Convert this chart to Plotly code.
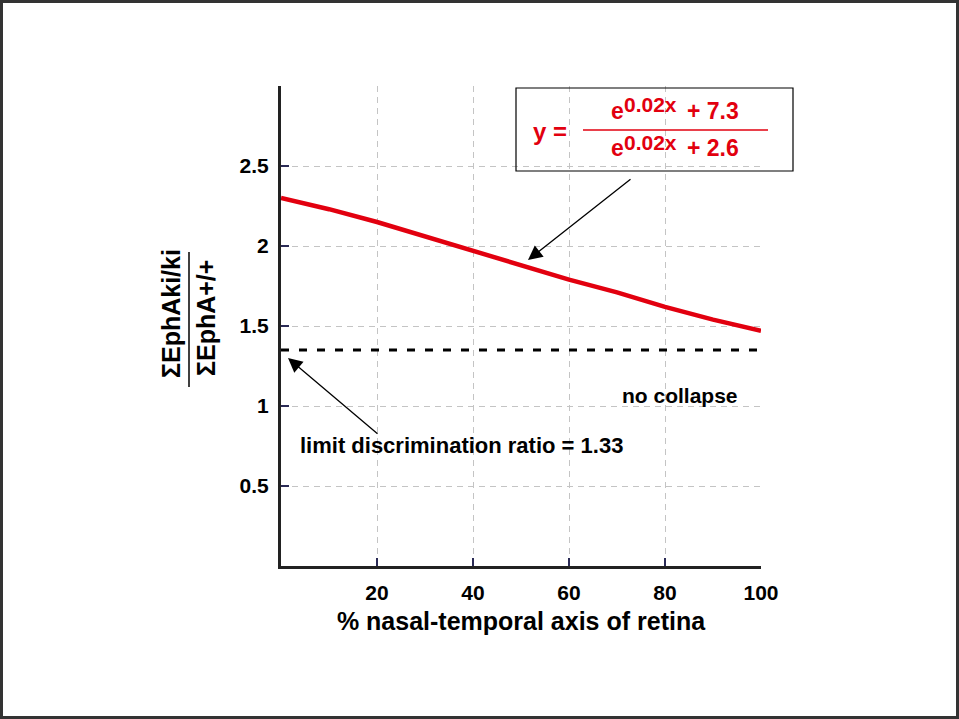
import plotly.graph_objects as go

# Data
x_pos = [0, 10, 20, 30, 40, 50, 60, 70, 80, 90, 100]
ratio = [2.30, 2.23, 2.15, 2.06, 1.97, 1.88, 1.79, 1.71, 1.62, 1.54, 1.47]
limit_x = [0, 100]
limit_y = [1.35, 1.35]

x_ticks = [20, 40, 60, 80, 100]
x_ticktext = ["20", "40", "60", "80", "100"]
y_ticks = [0.5, 1, 1.5, 2, 2.5, 3]
y_ticktext = ["0.5", "1", "1.5", "2", "2.5", ""]

FONT = "Liberation Sans, Arial, Helvetica, sans-serif"
RED = "#e2000f"

# plot area in pixels
L, R, T, B = 281, 761, 86, 566
W, H = R - L, B - T


def px(xp):
    return (xp - L) / W


def py(yp):
    return (B - yp) / H


fig = go.Figure()
fig.add_trace(go.Scatter(x=limit_x, y=limit_y, mode="lines",
                         line=dict(color="black", width=3, dash="8px,10px"),
                         hoverinfo="skip", showlegend=False))
fig.add_trace(go.Scatter(x=x_pos, y=ratio, mode="lines",
                         line=dict(color=RED, width=4.5),
                         showlegend=False))

axis_common = dict(
    showline=True, linecolor="#222222", linewidth=3,
    ticks="inside", ticklen=8, tickwidth=2, tickcolor="#2a2a55",
    showgrid=True, gridcolor="#c4c4c4", gridwidth=1, griddash="6px,5px",
    zeroline=False,
    tickfont=dict(family=FONT, size=21, color="black", weight="bold"),
)

fig.update_xaxes(range=[0, 100], tickmode="array", tickvals=x_ticks,
                 ticktext=x_ticktext, ticklabelstandoff=6,
                 title=dict(text="% nasal-temporal axis of retina",
                            font=dict(family=FONT, size=25, color="black", weight="bold"),
                            standoff=10),
                 **axis_common)
fig.update_yaxes(range=[0, 3], tickmode="array", tickvals=y_ticks,
                 ticktext=y_ticktext, ticklabelstandoff=5,
                 **axis_common)

shapes = [
    # page border
    dict(type="rect", xref="paper", yref="paper",
         x0=px(1.5), x1=px(957.5), y0=py(717.5), y1=py(1.5),
         line=dict(color="#333333", width=3), layer="above"),
    # equation box
    dict(type="rect", xref="paper", yref="paper",
         x0=px(516), x1=px(793), y0=py(171), y1=py(88),
         line=dict(color="black", width=1.2)),
    # equation fraction bar
    dict(type="line", xref="paper", yref="paper",
         x0=px(583), x1=px(768), y0=py(130), y1=py(130),
         line=dict(color=RED, width=1.5)),
    # y-label fraction bar
    dict(type="line", xref="paper", yref="paper",
         x0=px(189), x1=px(189), y0=py(252), y1=py(387),
         line=dict(color="black", width=1.5)),
]


def txt(text, x, y, size, color="black", xanchor="center", angle=0):
    return dict(text=text, xref="paper", yref="paper", x=px(x), y=py(y),
                showarrow=False, textangle=angle,
                font=dict(family=FONT, size=size, color=color),
                xanchor=xanchor, yanchor="middle")


annots = [
    txt("<b>ΣEphAki/ki</b>", 171, 314, 25, angle=-90),
    txt("<b>ΣEphA+/+</b>", 206, 318, 25, angle=-90),
    txt("<b>y =</b>", 550, 131, 24, color=RED),
    # numerator
    txt("<b>e</b>", 626, 111, 23, color=RED, xanchor="right"),
    txt("<b>0.02x</b>", 622, 105, 21, color=RED, xanchor="left"),
    txt("<b>+ 7.3</b>", 685, 111, 23, color=RED, xanchor="left"),
    # denominator
    txt("<b>e</b>", 626, 148, 23, color=RED, xanchor="right"),
    txt("<b>0.02x</b>", 622, 142, 21, color=RED, xanchor="left"),
    txt("<b>+ 2.6</b>", 685, 148, 23, color=RED, xanchor="left"),
    txt("<b>no collapse</b>", 680, 396, 21),
    txt("<b>limit discrimination ratio = 1.33</b>", 461, 445, 22),
    # arrows
    dict(text="", x=(528 - L) / W * 100, y=(B - 260) / H * 3, xref="x", yref="y",
         showarrow=True, ax=104, ay=-82, arrowhead=2, arrowsize=2.2,
         arrowwidth=1.3, arrowcolor="black", standoff=0),
    dict(text="", x=(288 - L) / W * 100, y=(B - 358) / H * 3, xref="x", yref="y",
         showarrow=True, ax=91, ay=77, arrowhead=2, arrowsize=2.2,
         arrowwidth=1.3, arrowcolor="black", standoff=0),
]

fig.update_layout(
    width=959, height=719,
    margin=dict(l=L, r=959 - R, t=T, b=719 - B, autoexpand=False),
    paper_bgcolor="white", plot_bgcolor="white",
    font=dict(family=FONT, color="black"),
    shapes=shapes, annotations=annots, showlegend=False,
)

fig.write_html("out.html", config={"displayModeBar": False},
               post_script="document.body.style.margin='0';document.body.style.padding='0';")
